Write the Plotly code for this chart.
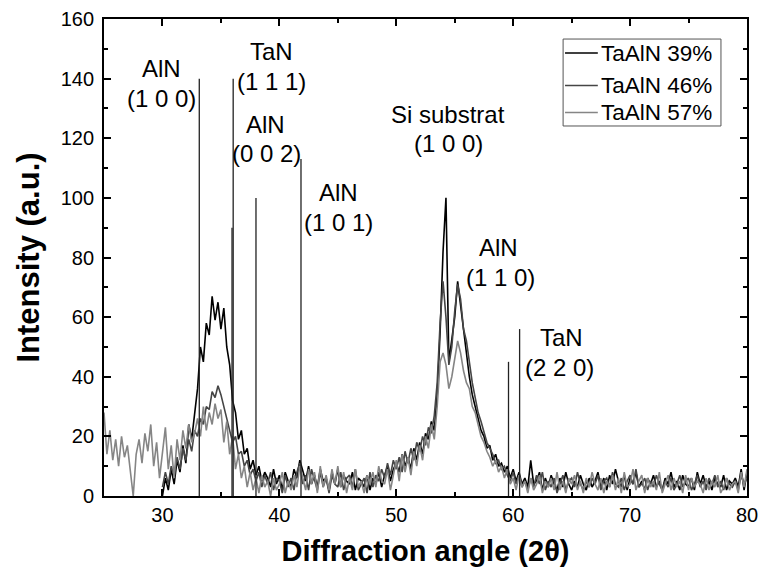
import numpy as np
import plotly.graph_objects as go

STEP = 0.25

START_57 = 25.0
TAALN_57 = [
    28, 14, 22, 12, 19, 10, 20, 13, 17, 8, 0, 14, 19, 11, 21, 15,
    24, 10, 18, 6, 14, 23, 9, 17, 6, 19, 12, 22, 16, 24, 18, 21,
    26, 20, 30, 22, 28, 24, 31, 26, 29, 18, 25, 14, 20, 9, 14, 6,
    10, 3, 8, 2, 6, 1, 7, 3, 5, 0, 6, 2, 4, 8, 1, 5,
    2, 7, 3, 10, 6, 2, 9, 4, 8, 1, 10, 3, 7, 2, 9, 4,
    10, 3, 8, 1, 6, 2, 9, 3, 5, 1, 7, 4, 8, 3, 10, 5,
    4, 9, 2, 7, 12, 5, 14, 8, 13, 7, 15, 10, 17, 12, 20, 16,
    24, 19, 30, 45, 48, 44, 36, 40, 46, 52, 48, 42, 38, 36, 30, 28,
    24, 20, 18, 15, 13, 10, 12, 8, 10, 6, 9, 4, 6, 2, 7, 3,
    5, 1, 6, 2, 4, 7, 1, 5, 3, 6, 2, 8, 2, 5, 1, 6,
    4, 7, 2, 5, 1, 6, 3, 8, 4, 2, 6, 1, 5, 3, 7, 2,
    6, 1, 8, 3, 4, 9, 2, 5, 7, 1, 6, 3, 5, 2, 8, 1,
    4, 7, 2, 6, 3, 5, 1, 7, 2, 6, 3, 5, 4, 1, 6, 2,
    5, 3, 7, 1, 3, 6, 2, 4, 5, 1, 8, 3, 9,
]

START_39 = 30.0
TAALN_39 = [
    0, 6, 2, 9, 4, 12, 8, 17, 11, 24, 19, 28, 36, 50, 45, 58,
    54, 67, 59, 65, 56, 63, 50, 44, 32, 28, 19, 22, 14, 16, 9, 12,
    7, 10, 5, 8, 6, 3, 9, 4, 7, 2, 8, 5, 3, 9, 6, 12,
    8, 5, 10, 4, 7, 3, 9, 5, 6, 2, 8, 4, 9, 3, 7, 5,
    4, 8, 2, 6, 5, 3, 7, 2, 6, 4, 8, 3, 7, 10, 5, 9,
    11, 8, 14, 10, 13, 9, 16, 12, 18, 14, 21, 19, 25, 22, 34, 55,
    82, 100, 45, 52, 60, 72, 64, 55, 48, 40, 34, 30, 26, 22, 20, 16,
    17, 12, 14, 10, 11, 8, 10, 6, 9, 5, 8, 4, 6, 3, 12, 4,
    5, 8, 2, 6, 3, 7, 4, 2, 6, 3, 8, 4, 2, 5, 3, 7,
    4, 2, 6, 3, 5, 8, 3, 6, 2, 7, 4, 9, 5, 3, 7, 2,
    6, 4, 8, 3, 5, 2, 6, 4, 7, 3, 5, 2, 6, 4, 8, 3,
    5, 2, 7, 4, 3, 6, 2, 8, 4, 7, 3, 5, 2, 6, 4, 3,
    7, 2, 5, 4, 6, 3, 9, 2, 8,
]

START_46 = 30.0
TAALN_46 = [
    3, 8, 4, 10, 7, 13, 9, 16, 12, 19, 15, 22, 20, 26, 24, 30,
    29, 35, 33, 37, 34, 30, 27, 22, 18, 20, 14, 15, 10, 12, 7, 9,
    5, 8, 3, 7, 4, 8, 2, 6, 5, 1, 7, 3, 6, 2, 8, 11,
    4, 7, 2, 9, 5, 2, 8, 3, 6, 1, 7, 4, 3, 8, 2, 6,
    7, 3, 9, 2, 4, 6, 1, 8, 3, 7, 5, 9, 6, 11, 7, 12,
    9, 13, 8, 15, 11, 16, 12, 18, 15, 20, 17, 23, 21, 27, 38, 58,
    72, 60, 44, 50, 62, 71, 66, 56, 52, 44, 38, 33, 28, 25, 21, 18,
    16, 14, 11, 12, 9, 10, 7, 5, 8, 4, 7, 3, 5, 2, 6, 3,
    7, 4, 8, 2, 5, 3, 6, 1, 4, 7, 2, 5, 6, 3, 8, 4,
    2, 5, 3, 6, 4, 7, 2, 5, 6, 3, 8, 4, 3, 6, 2, 5,
    7, 4, 9, 3, 4, 6, 2, 5, 3, 7, 4, 2, 5, 3, 6, 2,
    4, 7, 3, 5, 6, 2, 4, 7, 3, 5, 2, 6, 4, 7, 3, 5,
    2, 6, 4, 3, 5, 2, 7, 4, 6,
]

# Reference peak positions (2-theta) and stick heights
STICK_POS = [33.15, 35.95, 36.05, 38.0, 41.85, 59.6, 60.55]
STICK_HEIGHT = [140, 90, 140, 100, 113, 45, 56]

# Peak labels: (text, 2-theta, intensity)
PEAK_LABELS = [
    ("AlN", 29.9, 143.5), ("(1 0 0)", 29.9, 133.5),
    ("TaN", 39.35, 149.0), ("(1 1 1)", 39.35, 139.0),
    ("AlN", 38.85, 124.5), ("(0 0 2)", 38.9, 114.8),
    ("AlN", 45.05, 101.7), ("(1 0 1)", 45.05, 91.9),
    ("Si substrat", 54.4, 128.0), ("(1 0 0)", 54.45, 118.3),
    ("AlN", 58.75, 83.2), ("(1 1 0)", 58.9, 73.2),
    ("TaN", 64.1, 53.0), ("(2 2 0)", 63.95, 43.0),
]

SERIES = [
    ("TaAlN 39%", START_39, TAALN_39, "#000000"),
    ("TaAlN 46%", START_46, TAALN_46, "#454545"),
    ("TaAlN 57%", START_57, TAALN_57, "#858585"),
]

FONT = "Liberation Sans, Arial, sans-serif"

fig = go.Figure()

for name, start, vals, color in SERIES:
    x = start + STEP * np.arange(len(vals))
    fig.add_trace(go.Scatter(
        x=x, y=vals, mode="lines", name=name, showlegend=False,
        line=dict(color=color, width=1.6),
    ))

# sticks as one trace with gaps
sx, sy = [], []
for p, h in zip(STICK_POS, STICK_HEIGHT):
    sx += [p, p, None]
    sy += [0, h, None]
fig.add_trace(go.Scatter(
    x=sx, y=sy, mode="lines", showlegend=False, hoverinfo="skip",
    line=dict(color="#222222", width=1.3),
))

for text, x, y in PEAK_LABELS:
    fig.add_annotation(
        x=x, y=y, text=text, showarrow=False,
        font=dict(size=24, color="#000000", family=FONT),
    )

# legend box drawn by hand so the rows sit as tight as the original
fig.add_shape(type="rect", xref="paper", yref="paper",
              x0=0.714, x1=0.9595, y0=0.7757, y1=0.958,
              line=dict(color="#555555", width=1), fillcolor="#ffffff", layer="above")
legend_rows = [0.9287, 0.8606, 0.804]
for (name, _, _, color), ly in zip(SERIES, legend_rows):
    fig.add_shape(type="line", xref="paper", yref="paper",
                  x0=0.717, x1=0.768, y0=ly, y1=ly,
                  line=dict(color=color, width=1.6), layer="above")
    fig.add_annotation(xref="paper", yref="paper", x=0.7695, y=ly, text=name,
                       showarrow=False, xanchor="left", yanchor="middle",
                       font=dict(size=22.5, color="#000000", family=FONT))

fig.update_layout(
    width=759, height=574,
    paper_bgcolor="#ffffff", plot_bgcolor="#ffffff",
    font=dict(family=FONT, color="#000000", size=20),
    margin=dict(l=104, r=12, t=19, b=78),
    showlegend=False,
)

fig.update_xaxes(
    range=[25, 80], dtick=10, tick0=0,
    ticks="inside", ticklen=7, tickwidth=1.5, tickcolor="#000",
    showline=True, linecolor="#000", linewidth=1.8, mirror="ticks",
    showgrid=False, zeroline=False,
    minor=dict(ticks="inside", dtick=5, ticklen=4, tickcolor="#000", showgrid=False),
    tickfont=dict(size=20), ticklabeloverflow="allow", automargin=False,
    title=dict(text="<b>Diffraction angle (2θ)</b>", font=dict(size=29), standoff=16),
)
fig.update_yaxes(
    range=[0, 160], dtick=20,
    ticks="inside", ticklen=7, tickwidth=1.5, tickcolor="#000",
    showline=True, linecolor="#000", linewidth=1.8, mirror="ticks",
    showgrid=False, zeroline=False,
    minor=dict(ticks="inside", dtick=10, ticklen=4, tickcolor="#000", showgrid=False),
    tickfont=dict(size=20), ticklabelstandoff=4, automargin=False,
    title=dict(text="<b>Intensity (a.u.)</b>", font=dict(size=31), standoff=12),
)

# page has a default 8px body margin; drop it so the figure fills the window
fig.write_html(
    "out.html",
    config={"displayModeBar": False},
    post_script="document.body.style.margin='0';",
)
